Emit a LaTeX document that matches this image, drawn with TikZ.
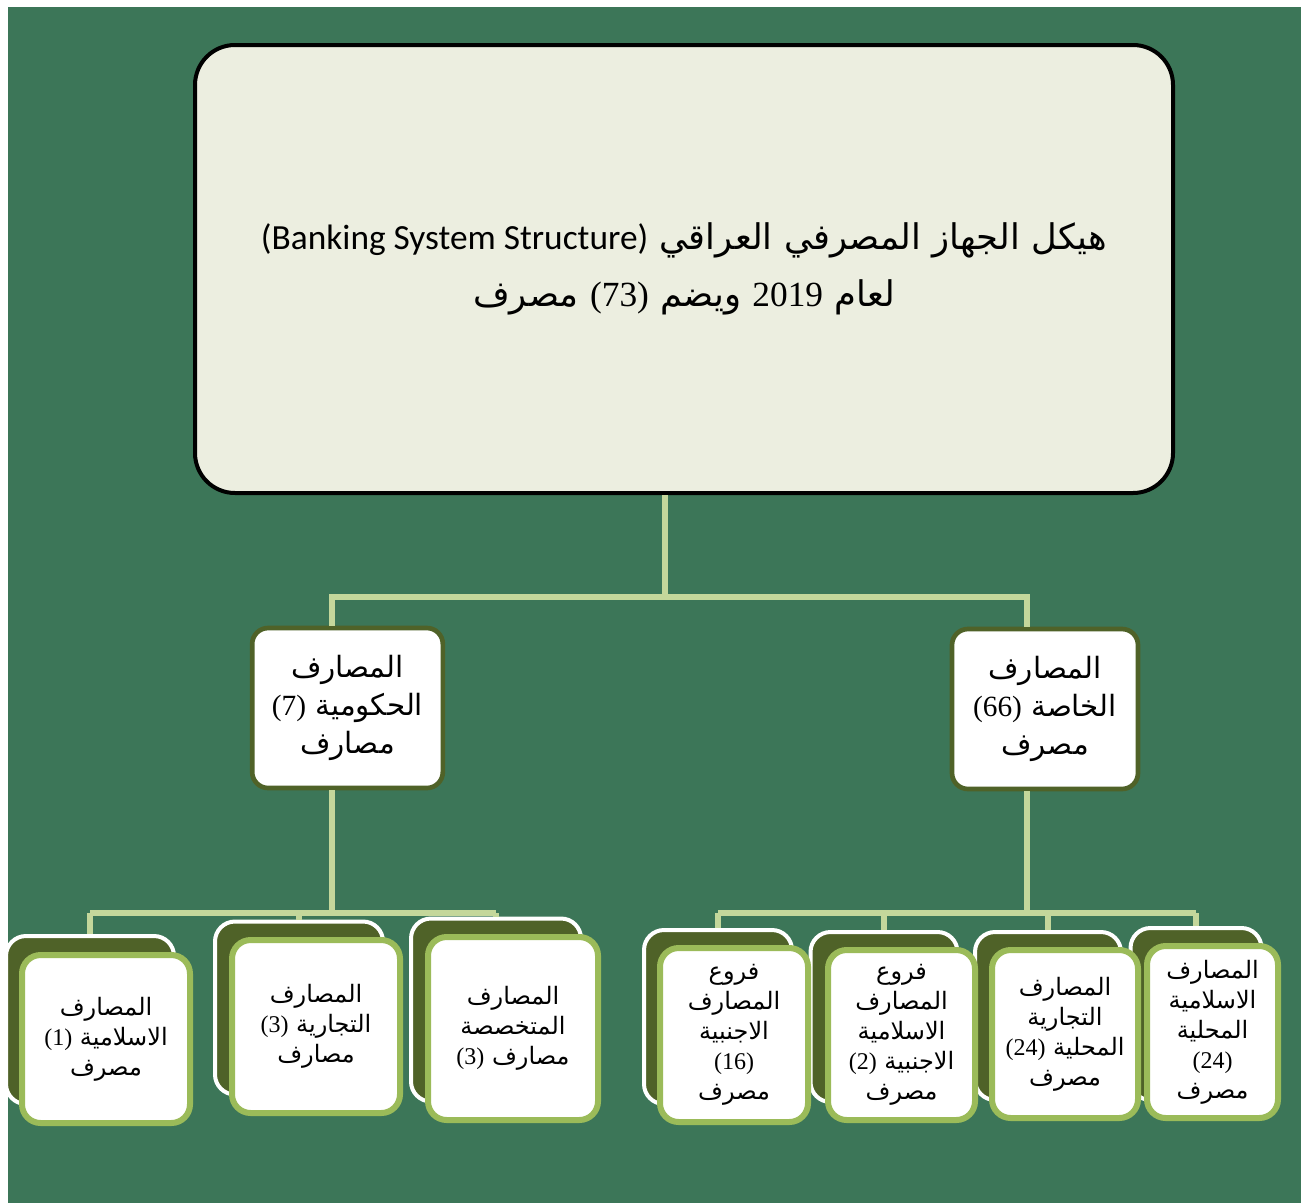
\documentclass[tikz,border=0pt]{standalone}
\usepackage{fontspec}
\setmainfont{Liberation Serif}
\newfontfamily\arabicfont[Script=Arabic]{DejaVu Sans}
\newfontfamily\latinsans{Carlito}
\TeXXeTstate=1
\newcommand{\arline}[1]{\beginR#1\endR}
\newcommand{\digits}[1]{\beginL{\rmfamily #1}\endL{}}

\definecolor{marble}{RGB}{60,118,88}
\definecolor{titlefill}{RGB}{236,238,224}
\definecolor{oliveedge}{RGB}{79,98,40}
\definecolor{linkgreen}{RGB}{196,215,155}
\definecolor{leafedge}{RGB}{155,187,89}

\tikzset{every picture/.style={line width=0.75pt},
  rootbox/.style={draw=black,line width=3pt,fill=titlefill,rounded corners=30pt,align=center,
    minimum width=733.5pt,minimum height=336pt,font=\arabicfont\fontsize{26.5}{43}\selectfont},
  groupbox/.style={draw=oliveedge,line width=3.5pt,fill=white,rounded corners=12pt,align=center,
    minimum height=120pt,font=\arabicfont\fontsize{22}{28.5}\selectfont},
  backbox/.style={draw=white,line width=3pt,fill=oliveedge,rounded corners=15pt},
  leafbox/.style={draw=leafedge,line width=4.5pt,fill=white,rounded corners=14pt,align=center,
    font=\arabicfont\fontsize{18}{22.5}\selectfont},
  link/.style={draw=linkgreen,line width=4.5pt}}

\begin{document}
\begin{tikzpicture}[x=0.75pt,y=0.75pt,yscale=-1,xscale=1]
\useasboundingbox (0,0) rectangle (1301,1203);
%Shape: Rectangle (background)
\fill[marble] (8,7) rectangle (1301,1203);

%Shape: Rounded Rect [root]
\node[rootbox] (root) at (684,269) {\arline{هيكل الجهاز المصرفي العراقي \beginL{\latinsans (Banking System Structure)}\endL}\\
  \arline{لعام \digits{2019} ويضم \digits{(73)} مصرف}};

%Shape: Rounded Rect [groups]
\node[groupbox,minimum width=143pt] (gov) at (347.5,708) {\arline{المصارف}\\ \arline{الحكومية \digits{(7)}}\\ \arline{مصارف}};
\node[groupbox,minimum width=139.5pt] (priv) at (1045,709) {\arline{المصارف}\\ \arline{الخاصة \digits{(66)}}\\ \arline{مصرف}};

%Shape: Rounded Rect [back plates]
\node[backbox,minimum width=126pt,minimum height=126pt] (isl-b) at (90,1020) {};
\node[backbox,minimum width=126pt,minimum height=129.75pt] (com-b) at (299,1008) {};
\node[backbox,minimum width=127.5pt,minimum height=137.25pt] (spc-b) at (496,1010) {};
\node[backbox,minimum width=111pt,minimum height=130.5pt] (fbr-b) at (718,1017) {};
\node[backbox,minimum width=110.25pt,minimum height=127.5pt] (fis-b) at (884,1017) {};
\node[backbox,minimum width=109.5pt,minimum height=126pt] (lcm-b) at (1048,1016) {};
\node[backbox,minimum width=98.25pt,minimum height=129pt] (lis-b) at (1196,1014) {};

% Text Node
\node[leafbox,minimum width=126pt,minimum height=126pt] (isl) at (106,1039) {\arline{المصارف}\\ \arline{الاسلامية \digits{(1)}}\\ \arline{مصرف}};
% Text Node
\node[leafbox,minimum width=126pt,minimum height=129.75pt] (com) at (316,1026.5) {\arline{المصارف}\\ \arline{التجارية \digits{(3)}}\\ \arline{مصارف}};
% Text Node
\node[leafbox,minimum width=127.5pt,minimum height=137.25pt] (spc) at (513,1028.5) {\arline{المصارف}\\ \arline{المتخصصة}\\ \arline{مصارف \digits{(3)}}};
% Text Node
\node[leafbox,minimum width=111pt,minimum height=130.5pt] (fbr) at (734,1035) {\arline{فروع}\\ \arline{المصارف}\\ \arline{الاجنبية}\\ \digits{(16)}\\ \arline{مصرف}};
% Text Node
\node[leafbox,minimum width=110.25pt,minimum height=127.5pt] (fis) at (901.5,1035) {\arline{فروع}\\ \arline{المصارف}\\ \arline{الاسلامية}\\ \arline{الاجنبية \digits{(2)}}\\ \arline{مصرف}};
% Text Node
\node[leafbox,minimum width=109.5pt,minimum height=126pt] (lcm) at (1065,1034) {\arline{المصارف}\\ \arline{التجارية}\\ \arline{المحلية \digits{(24)}}\\ \arline{مصرف}};
% Text Node
\node[leafbox,minimum width=98.25pt,minimum height=129pt] (lis) at (1212.5,1032) {\arline{المصارف}\\ \arline{الاسلامية}\\ \arline{المحلية}\\ \digits{(24)}\\ \arline{مصرف}};

%Connectors
\coordinate (hub) at (665,597);
\coordinate (govjoint) at (332,597);
\coordinate (privjoint) at (1027,597);
\coordinate (govfork) at (332,913);
\coordinate (privfork) at (1027,913);
\draw[link] (root.south -| hub) -- (hub);
\draw[link] (govjoint |- gov.north) -- (govjoint) -- (privjoint) -- (privjoint |- priv.north);
\draw[link] (govjoint |- gov.south) -- (govfork);
\draw[link] (privjoint |- priv.south) -- (privfork);
\draw[link] (isl-b.north |- govfork) -- (spc-b.north |- govfork);
\draw[link] (fbr-b.north |- privfork) -- (lis-b.north |- privfork);
\foreach \n in {isl-b,com-b,spc-b,fbr-b,fis-b,lcm-b,lis-b}
  \draw[link] (\n.north |- govfork) -- (\n.north);

\end{tikzpicture}
\end{document}
